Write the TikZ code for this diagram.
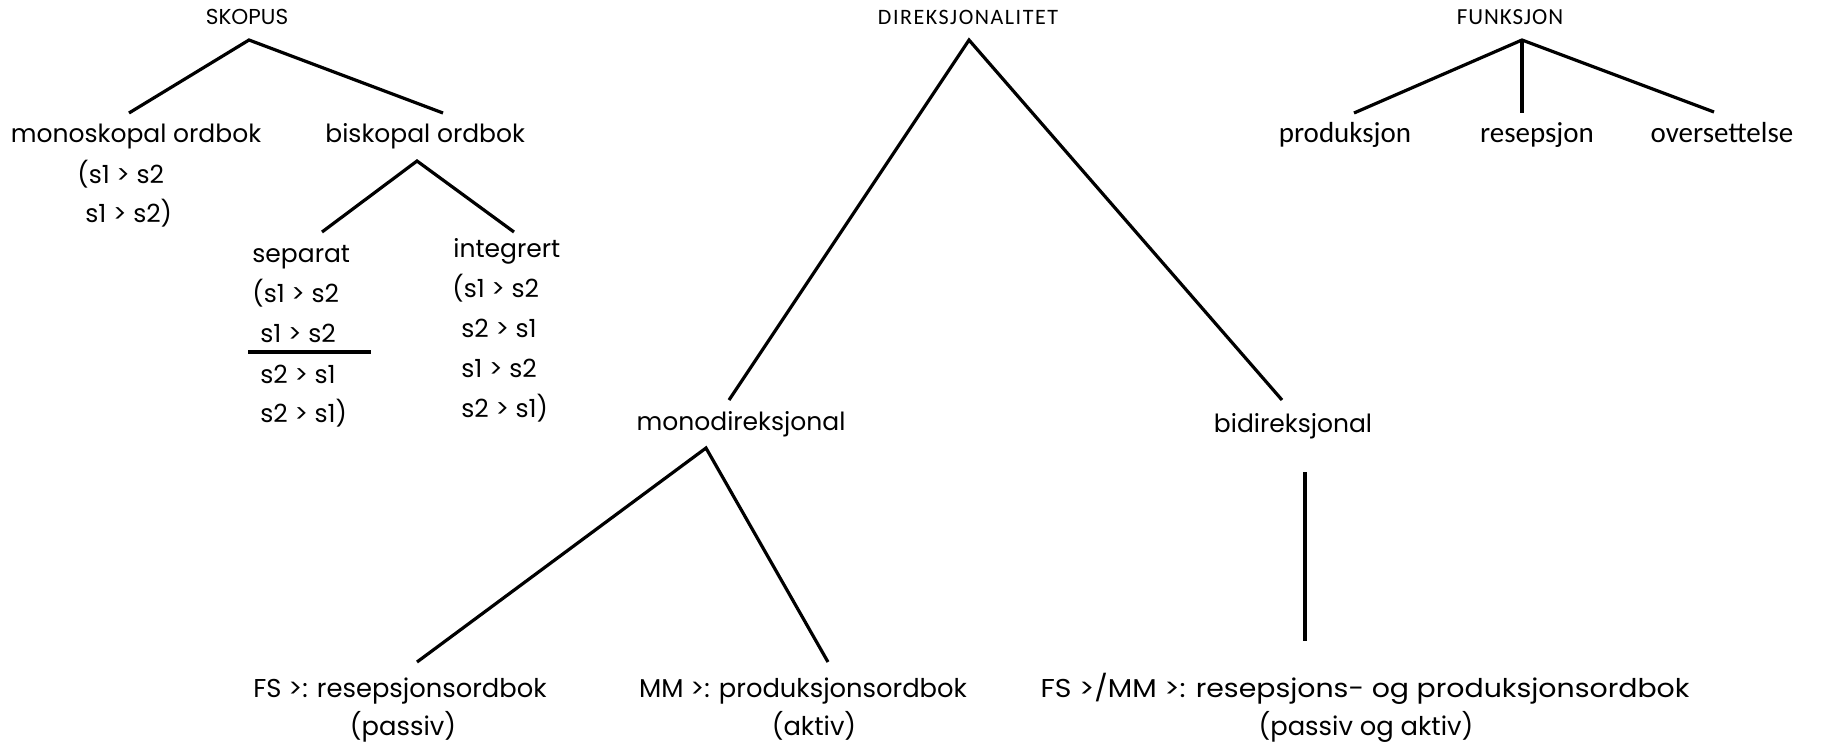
\documentclass[tikz,border=0pt]{standalone}
\usepackage{fontspec}
\setmainfont{Poppins}
\newfontfamily\calib{Carlito}
\newfontfamily\calibsp[LetterSpace=7]{Carlito}
\newfontfamily\calibfs[LetterSpace=4]{Carlito}
\begin{document}
\begin{tikzpicture}[x=0.5pt,y=-0.5pt,
  lbl/.style={inner sep=0pt, anchor=base, font=\fontsize{12.5}{15}\selectfont},
  lblb/.style={inner sep=0pt, anchor=base, font=\fontsize{12.9}{15}\selectfont},
  lblw/.style={inner sep=0pt, anchor=base west, font=\fontsize{12.5}{15}\selectfont},
  fnl/.style={inner sep=0pt, anchor=base, font=\calib\fontsize{14.5}{17}\selectfont},
  headp/.style={inner sep=0pt, anchor=base, font=\fontsize{10.8}{12}\selectfont},
  headc/.style={inner sep=0pt, anchor=base, font=\calibsp\fontsize{11}{12}\selectfont},
  headf/.style={inner sep=0pt, anchor=base, font=\calibfs\fontsize{11.5}{12}\selectfont},
  edge/.style={line width=1.6pt, line cap=butt}]
\useasboundingbox (0,0) rectangle (1824,745);
% ---------------- SKOPUS ----------------
\node[headp] (skopus) at (247,24) {SKOPUS};
\coordinate (sA) at (249,40);
\coordinate (sL) at (129,113);
\coordinate (sR) at (443,113);
\draw[edge] (sL) -- (sA) -- (sR);
\node[lbl] (mono) at (136,142) {monoskopal ordbok};
\node[lblw] (mono1) at (77,183) {(s1 > s2};
\node[lblw] (mono2) at (85,222) {s1 > s2)};
\node[lblw] (bisk) at (325,142) {biskopal ordbok};
\coordinate (bA) at (417,161);
\coordinate (bL) at (322,232);
\coordinate (bR) at (514,232);
\draw[edge] (bL) -- (bA) -- (bR);
\node[lblw] (sep) at (252,262) {separat};
\node[lblw] (sep1) at (252,302) {(s1 > s2};
\node[lblw] (sep2) at (260,342) {s1 > s2};
\coordinate (ruleL) at (248,352);
\coordinate (ruleR) at (371,352);
\draw[edge] (ruleL) -- (ruleR);
\node[lblw] (sep3) at (260,383) {s2 > s1};
\node[lblw] (sep4) at (260,422) {s2 > s1)};
\node[lblw] (int) at (453,257) {integrert};
\node[lblw] (int1) at (452,297) {(s1 > s2};
\node[lblw] (int2) at (461,337) {s2 > s1};
\node[lblw] (int3) at (461,377) {s1 > s2};
\node[lblw] (int4) at (461,417) {s2 > s1)};
% ---------------- DIREKSJONALITET ----------------
\node[headc] (dir) at (968,24) {DIREKSJONALITET};
\coordinate (dA) at (969,40);
\coordinate (dL) at (729,400);
\coordinate (dR) at (1282,400);
\draw[edge] (dL) -- (dA) -- (dR);
\node[lbl] (mdir) at (741,430) {monodireksjonal};
\node[lbl] (bdir) at (1293,432) {bidireksjonal};
\coordinate (mA) at (706,448);
\coordinate (mL) at (417,662);
\coordinate (mR) at (828,662);
\draw[edge] (mL) -- (mA) -- (mR);
\coordinate (vT) at (1305,472);
\coordinate (vB) at (1305,641);
\draw[edge] (vT) -- (vB);
\node[lblb] (fs) at (400,697) {FS >: resepsjonsordbok};
\node[lblb] (fs2) at (403,735) {(passiv)};
\node[lblb] (mm) at (803,697) {MM >: produksjonsordbok};
\node[lblb] (mm2) at (814,735) {(aktiv)};
\node[lblb] (fsmm) at (1365,697) {\scalebox{1.1}[1]{FS >/MM >: resepsjons- og produksjonsordbok}};
\node[lblb] (fsmm2) at (1366,735) {(passiv og aktiv)};
% ---------------- FUNKSJON ----------------
\node[headf] (funk) at (1510,24) {FUNKSJON};
\coordinate (fA) at (1522,40);
\coordinate (fL) at (1354,113);
\coordinate (fM) at (1522,113);
\coordinate (fR) at (1714,112);
\draw[edge] (fL) -- (fA) -- (fR);
\draw[edge] (fA) -- (fM);
\node[fnl] (prod) at (1345,142) {produksjon};
\node[fnl] (res) at (1537,142) {resepsjon};
\node[fnl] (over) at (1722,142) {oversettelse};
\end{tikzpicture}
\end{document}
